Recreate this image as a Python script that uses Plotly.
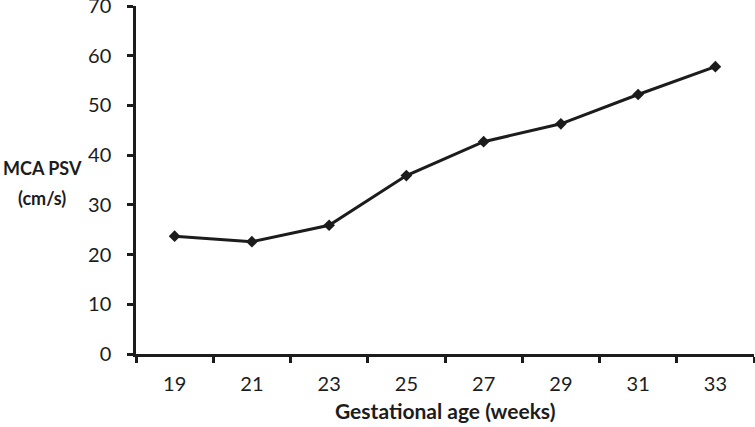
import plotly.graph_objects as go

# Gestational age (weeks) and mean MCA PSV (cm/s)
weeks = ["19", "21", "23", "25", "27", "29", "31", "33"]
psv = [23.7, 22.6, 25.9, 35.9, 42.7, 46.3, 52.2, 57.8]

y_ticks = [0, 10, 20, 30, 40, 50, 60, 70]

font_family = "Lato, 'Open Sans', sans-serif"
ink = "#1c1c1c"

fig = go.Figure()

fig.add_trace(go.Scatter(
    x=weeks,
    y=psv,
    mode="lines+markers",
    line=dict(color=ink, width=3),
    marker=dict(symbol="diamond", size=9, color=ink),
    showlegend=False,
))

fig.update_layout(
    width=755,
    height=427,
    margin=dict(l=136, r=1, t=6, b=73),
    paper_bgcolor="white",
    plot_bgcolor="white",
    font=dict(family=font_family, size=20, color=ink),
    xaxis=dict(
        type="category",
        range=[-0.5, 7.5],
        automargin=False,
        showline=True,
        linecolor=ink,
        linewidth=2.5,
        ticks="outside",
        tickson="boundaries",
        ticklen=6,
        tickwidth=2.5,
        tickcolor=ink,
        ticklabelstandoff=10,
        showgrid=False,
        zeroline=False,
        tickfont=dict(size=20),
    ),
    yaxis=dict(
        range=[0, 70],
        tickvals=y_ticks,
        automargin=False,
        showline=True,
        linecolor=ink,
        linewidth=2.5,
        ticks="outside",
        ticklen=6,
        tickwidth=2.5,
        tickcolor=ink,
        ticklabelstandoff=12,
        ticklabeloverflow="allow",
        showgrid=False,
        zeroline=False,
        tickfont=dict(size=20),
    ),
    annotations=[
        dict(
            text="<b>Gestational age (weeks)</b>",
            x=0.5, y=0, xref="paper", yref="paper",
            xanchor="center", yanchor="middle",
            yshift=-56, showarrow=False,
            font=dict(size=21),
        ),
        # y title as two lines, spaced like the original
        dict(
            text="<b>MCA PSV</b>",
            x=0, y=37.4, xref="paper", yref="y",
            xanchor="center", yanchor="middle",
            xshift=-94, showarrow=False,
            font=dict(size=18),
        ),
        dict(
            text="<b>(cm/s)</b>",
            x=0, y=31.4, xref="paper", yref="y",
            xanchor="center", yanchor="middle",
            xshift=-94, showarrow=False,
            font=dict(size=18),
        ),
    ],
)

# drop the default page margin so the figure sits flush in the window
fig.write_html(
    "out.html",
    config={"displayModeBar": False},
    post_script="document.body.style.margin = '0';",
)
